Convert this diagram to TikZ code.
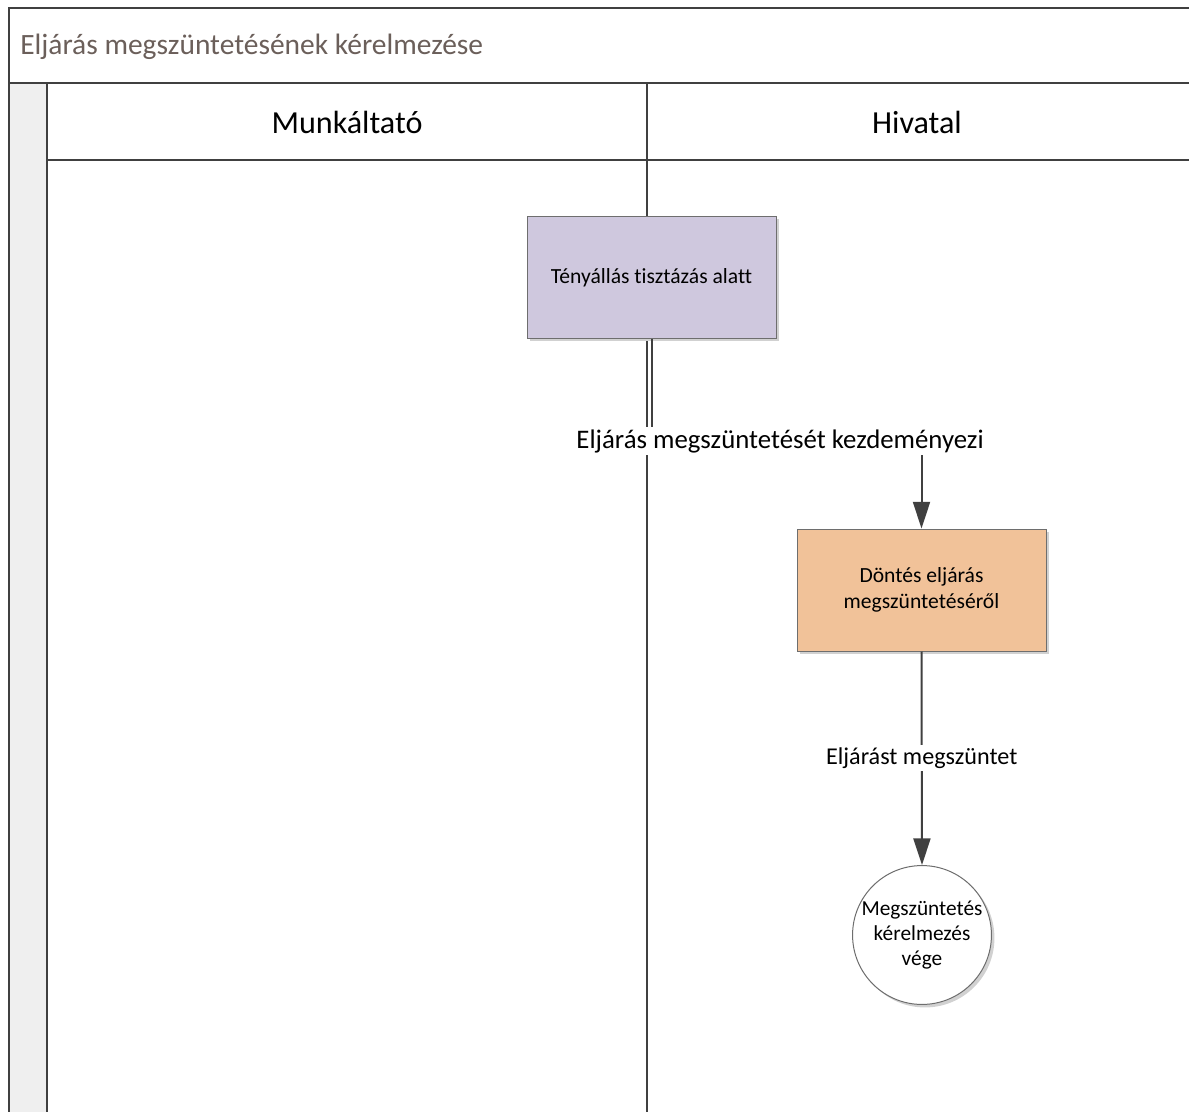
\documentclass[tikz,border=0pt]{standalone}
\usepackage{fontspec}
\setmainfont{Carlito}[Ligatures=NoCommon]
\usepackage{tikz}
\usetikzlibrary{arrows.meta,shadows,positioning}
\usepackage{xcolor}
\definecolor{lanegray}{HTML}{404040}
\definecolor{stripgray}{HTML}{EFEFEF}
\definecolor{titlegray}{HTML}{6B5F5A}
\definecolor{lavender}{HTML}{CFC8DE}
\definecolor{peach}{HTML}{F1C299}
\definecolor{shapeline}{HTML}{6E6E6E}

\tikzset{
  lane/.style={line width=1.5pt, draw=lanegray},
  shadowed/.style={drop shadow={shadow xshift=2.25pt, shadow yshift=-2.25pt, fill=black!18, opacity=1}},
  taskbox/.style={shadowed, draw=shapeline, line width=0.75pt, minimum width=186.75pt,
    minimum height=91.5pt, align=center, font=\fontsize{16.2}{20}\selectfont},
  endstate/.style={shadowed, circle, draw=shapeline, fill=white, line width=0.75pt,
    minimum size=103.5pt, inner sep=0pt, align=center, font=\fontsize{16}{19}\selectfont},
  flow/.style={-{Triangle[length=20pt,width=12.75pt]}, line width=1.5pt, draw=lanegray},
  flowlabel/.style={fill=white, inner sep=2pt, text=black}
}

\begin{document}
\begin{tikzpicture}[x=0.75pt, y=-0.75pt]
    \useasboundingbox (0,0) rectangle (1189,1112);

    % Pool and lanes
    \fill[stripgray] (8.5,83.5) rectangle (47,1120);
    \draw[lane] (1195,8.5) -- (8.5,8.5) -- (8.5,1120);
    \draw[lane] (8.5,83.5) -- (1195,83.5);
    \draw[lane] (47,83.5) -- (47,1120);
    \draw[lane] (47,160.5) -- (1195,160.5);
    \draw[lane] (647,83.5) -- (647,1120);

    % Titles
    \node[anchor=west, inner sep=0pt, text=titlegray, font=\fontsize{22.1}{26}\selectfont] (pooltitle) at (20,47) {Eljárás megszüntetésének kérelmezése};
    \node[font=\fontsize{24.1}{28}\selectfont] (munkaltato) at (347,122) {Munkáltató};
    \node[font=\fontsize{24.1}{28}\selectfont] (hivatal) at (917,122) {Hivatal};

    % Steps
    \node[taskbox, fill=lavender] (tenyallas) at (651.5,277.5) {Tényállás tisztázás alatt};
    \node[taskbox, fill=peach] (dontes) at (921.5,590) {Döntés eljárás\\megszüntetéséről};
    \node[endstate] (vege) at (922,935) {Megszüntetés\\kérelmezés\\vége};

    % Flows
    \coordinate (knee) at (651.5,441);
    \draw[flow] (tenyallas.south) -- (knee) -| node[flowlabel, pos=0.238, font=\fontsize{20.1}{24}\selectfont] (kezdemenyez) {Eljárás megszüntetését kezdeményezi} (dontes.north);
    \draw[flow] (dontes.south) -- node[flowlabel, font=\fontsize{18.1}{22}\selectfont] (megszuntet) {Eljárást megszüntet} (vege.north);
\end{tikzpicture}
\end{document}
